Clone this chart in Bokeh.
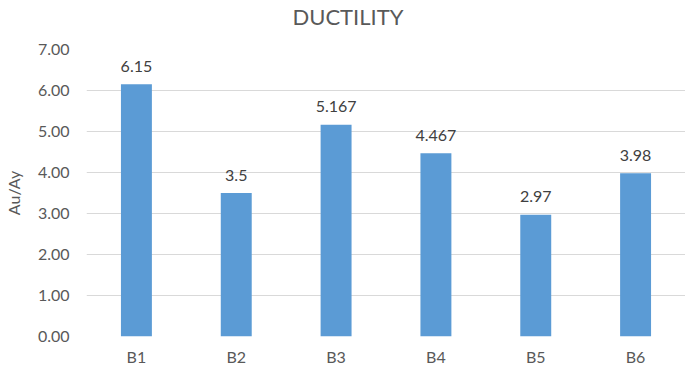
from bokeh.plotting import figure
from bokeh.models import ColumnDataSource, FixedTicker, Title, NumeralTickFormatter
from bokeh.core.properties import value
from bokeh.embed import file_html
from bokeh.resources import INLINE

categories = ["B1", "B2", "B3", "B4", "B5", "B6"]
ductility = [6.15, 3.5, 5.167, 4.467, 2.97, 3.98]
value_labels = ["6.15", "3.5", "5.167", "4.467", "2.97", "3.98"]
y_ticks = [0, 1, 2, 3, 4, 5, 6, 7]

FONT = "Lato"
GRAY = "#595959"

src = ColumnDataSource(dict(cat=categories, val=ductility, lab=value_labels))

p = figure(x_range=categories, y_range=(0, 7), width=685, height=368,
           output_backend="svg", toolbar_location=None,
           min_border_left=84, min_border_right=0, min_border_bottom=29, min_border_top=49)
p.title = Title(text="DUCTILITY", align="left", text_font=FONT,
                text_font_size="22px", text_font_style="normal", text_color=GRAY,
                standoff=0, offset=206)
# invisible spacer between title and plot area
p.add_layout(Title(text=" ", text_font_size="1px", standoff=17), "above")

p.vbar(x="cat", top="val", width=0.31, source=src, fill_color="#5B9BD5", line_color=None)
p.text(x="cat", y="val", text="lab", source=src, text_align="center",
       text_baseline="alphabetic", y_offset=-18, text_font=value(FONT),
       text_font_size="16px", text_color="#404040")

p.outline_line_color = None
p.xgrid.grid_line_color = None
p.ygrid.grid_line_color = "#D9D9D9"
p.ygrid.grid_line_width = 1

p.yaxis.ticker = FixedTicker(ticks=y_ticks)
p.yaxis.formatter = NumeralTickFormatter(format="0.00")
p.yaxis.axis_label = "Au/Ay"
p.yaxis.axis_label_text_font = FONT
p.yaxis.axis_label_text_font_size = "16px"
p.yaxis.axis_label_text_font_style = "normal"
p.yaxis.axis_label_text_color = GRAY
p.yaxis.axis_label_standoff = 12

for ax in (p.xaxis, p.yaxis):
    ax.axis_line_color = None
    ax.major_tick_line_color = None
    ax.minor_tick_line_color = None
    ax.major_tick_out = 0
    ax.major_tick_in = 0
    ax.minor_tick_out = 0
    ax.minor_tick_in = 0
    ax.major_label_text_font = FONT
    ax.major_label_text_font_size = "16px"
    ax.major_label_text_color = GRAY
p.yaxis.major_label_standoff = 17
p.xaxis.major_label_standoff = 10

p.x_range.range_padding = 0

open("out.html", "w").write(file_html(p, INLINE))
